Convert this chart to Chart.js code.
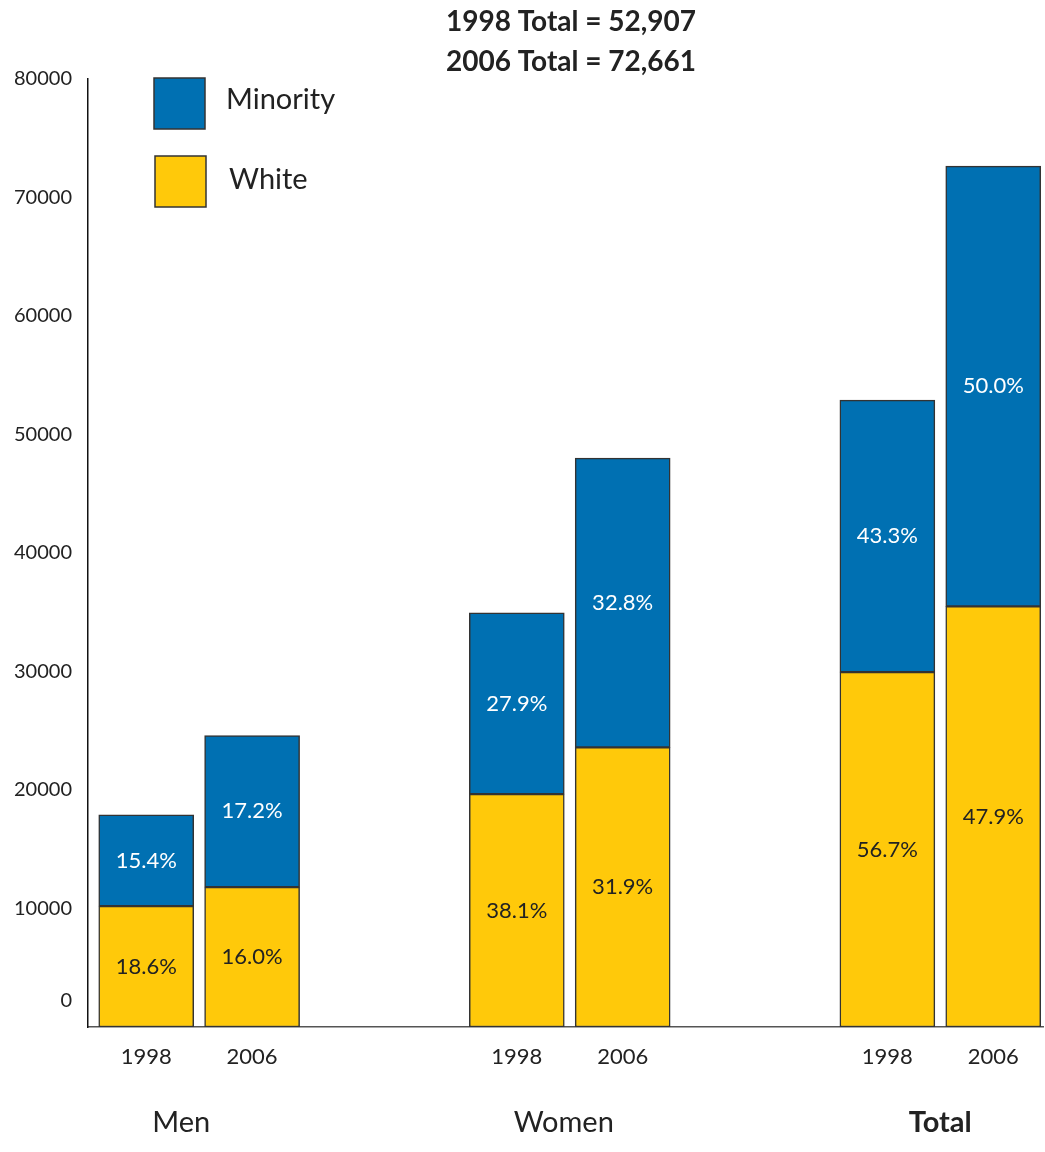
<!DOCTYPE html>
<html>
<head>
<meta charset="utf-8">
<script src="https://cdn.jsdelivr.net/npm/chart.js@4/dist/chart.umd.min.js"></script>
<style>
  body { margin: 0; background: #fff; }
  #wrap { width: 1045px; height: 1152px; position: relative; }
</style>
</head>
<body>
<div id="wrap"><canvas id="myChart"></canvas></div>
<script>
// data
const years = ['1998', '2006', '1998', '2006', '1998', '2006'];
const groups = ['Men', 'Women', 'Total'];
const slots = [0, 1, 3.5, 4.5, 7, 8]; // bar slots on the x scale
const white = [10200, 11800, 19650, 23600, 29950, 35500];
const minority = [7700, 12800, 15300, 24400, 22950, 37150];
const whitePct = ['18.6%', '16.0%', '38.1%', '31.9%', '56.7%', '47.9%'];
const minorityPct = ['15.4%', '17.2%', '27.9%', '32.8%', '43.3%', '50.0%'];
const titleLines = ['1998 Total = 52,907', '2006 Total = 72,661'];

const FONT = 'Lato, "DejaVu Sans", sans-serif';
const BLUE = '#0070b2';
const YELLOW = '#ffc90a';

// percent labels, title, legend, group names
const extras = {
  id: 'extras',
  afterDatasetsDraw(chart) {
    const ctx = chart.ctx;
    const x = chart.scales.x;
    const y = chart.scales.y;
    ctx.save();
    ctx.textAlign = 'center';
    ctx.textBaseline = 'middle';

    ctx.font = '22px ' + FONT;
    chart.data.datasets.forEach((ds, di) => {
      const meta = chart.getDatasetMeta(di);
      meta.data.forEach((bar, i) => {
        ctx.fillStyle = di == 0 ? '#222' : '#fff';
        ctx.fillText(ds.pctLabels[i], bar.x, (bar.y + bar.base) / 2);
      });
    });

    // title
    ctx.fillStyle = '#222';
    ctx.font = 'bold 28px ' + FONT;
    ctx.fillText(titleLines[0], 571, 22);
    ctx.fillText(titleLines[1], 571, 62);

    // legend
    ctx.textAlign = 'left';
    ctx.font = '29px ' + FONT;
    ctx.strokeStyle = '#333';
    ctx.lineWidth = 1.5;
    ctx.fillStyle = BLUE;
    ctx.fillRect(154, 78, 51, 51);
    ctx.strokeRect(154, 78, 51, 51);
    ctx.fillStyle = YELLOW;
    ctx.fillRect(155, 156, 51, 51);
    ctx.strokeRect(155, 156, 51, 51);
    ctx.fillStyle = '#222';
    ctx.fillText('Minority', 226, 100);
    ctx.fillText('White', 229, 180);

    // zero label sits above the base line
    ctx.textAlign = 'right';
    ctx.font = '20px ' + FONT;
    ctx.fillText('0', 72, y.getPixelForValue(0) - 26);

    // group names under each pair
    ctx.textAlign = 'center';
    const nudge = [-18, -6, 0];
    groups.forEach((g, gi) => {
      const mid = (x.getPixelForValue(slots[gi * 2]) + x.getPixelForValue(slots[gi * 2 + 1])) / 2;
      ctx.font = (g == 'Total' ? 'bold ' : '') + '29px ' + FONT;
      ctx.fillText(g, mid + nudge[gi], 1123);
    });
    ctx.restore();
  }
};

const ctx = document.getElementById('myChart');
new Chart(ctx, {
  type: 'bar',
  data: {
    datasets: [{
      label: 'White',
      data: slots.map((s, i) => ({ x: s, y: white[i] })),
      pctLabels: whitePct,
      backgroundColor: YELLOW,
      borderColor: '#333',
      borderWidth: 1.5,
      borderSkipped: false,
      barThickness: 95
    }, {
      label: 'Minority',
      data: slots.map((s, i) => ({ x: s, y: minority[i] })),
      pctLabels: minorityPct,
      backgroundColor: BLUE,
      borderColor: '#333',
      borderWidth: 1.5,
      borderSkipped: false,
      barThickness: 95
    }]
  },
  options: {
    responsive: true,
    maintainAspectRatio: false,
    animation: false,
    layout: { padding: { top: 79, right: 2, left: 0, bottom: 0 } },
    plugins: {
      legend: { display: false },
      tooltip: { enabled: false }
    },
    scales: {
      x: {
        type: 'linear',
        stacked: true,
        offset: false,
        min: -0.55,
        max: 8.47,
        grid: { display: false, drawTicks: false },
        border: { color: '#555', width: 1.5 },
        afterBuildTicks: (scale) => { scale.ticks = slots.map(v => ({ value: v })); },
        afterFit: (scale) => { scale.height = 125; },
        ticks: {
          autoSkip: false,
          maxRotation: 0,
          padding: 17,
          color: '#222',
          font: { family: FONT, size: 22 },
          callback: (val, i) => years[i]
        }
      },
      y: {
        stacked: true,
        min: 0,
        max: 80000,
        grid: { display: false, drawTicks: false },
        border: { color: '#111', width: 1.5 },
        afterFit: (scale) => { scale.width = 88; },
        ticks: {
          stepSize: 10000,
          padding: 16,
          color: '#222',
          font: { family: FONT, size: 20 },
          callback: (val) => val == 0 ? '' : val
        }
      }
    }
  },
  plugins: [extras]
});
</script>
</body>
</html>
